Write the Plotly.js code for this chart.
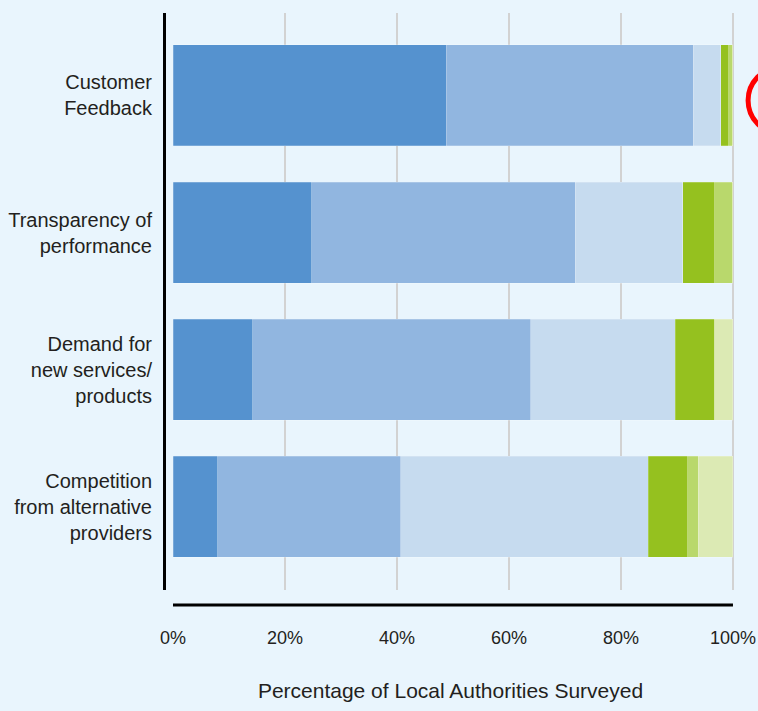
<!DOCTYPE html>
<html>
<head>
<meta charset="utf-8">
<script src="https://cdn.plot.ly/plotly-3.0.1.min.js"></script>
<style>
  html, body { margin: 0; padding: 0; background: #e9f5fd; }
  #chart { width: 758px; height: 711px; }
</style>
</head>
<body>
<div id="chart"></div>
<script>
// Categories (top to bottom)
const categories = [
  "Customer<br>Feedback",
  "Transparency of<br>performance",
  "Demand for<br>new services/<br>products",
  "Competition<br>from alternative<br>providers"
];

// Stacked segment values (% of local authorities), left to right
const seg1 = [48.8, 24.8, 14.2, 8.0];
const seg2 = [44.1, 47.0, 49.7, 32.7];
const seg3 = [4.9, 19.2, 25.8, 44.2];
const seg4 = [1.4, 5.7, 7.0, 7.0];
const seg5 = [0.8, 3.3, 0.0, 1.9];
const seg6 = [0.0, 0.0, 3.3, 6.2];

const seriesValues = [seg1, seg2, seg3, seg4, seg5, seg6];
const seriesNames = ["Segment 1", "Segment 2", "Segment 3", "Segment 4", "Segment 5", "Segment 6"];
const seriesColors = ["#5592cf", "#91b6e0", "#c6dbef", "#95c11f", "#b9d86c", "#dceab4"];

const xTickVals = [0, 20, 40, 60, 80, 100];
const xTickText = ["0%", "20%", "40%", "60%", "80%", "100%"];

const FONT = "'Liberation Sans', Arial, sans-serif";
const TEXT = "#231f20";

const traces = seriesValues.map((vals, i) => ({
  type: "bar",
  orientation: "h",
  y: categories,
  x: vals,
  name: seriesNames[i],
  marker: { color: seriesColors[i], line: { width: 0.6, color: "rgba(255,255,255,0.35)" } },
  hoverinfo: "x+name"
}));

const layout = {
  width: 758,
  height: 711,
  paper_bgcolor: "#e9f5fd",
  plot_bgcolor: "#e9f5fd",
  margin: { l: 166, r: 23, t: 13, b: 121 },
  barmode: "stack",
  bargap: 0.263,
  showlegend: false,
  font: { family: FONT, color: TEXT },
  xaxis: {
    range: [-1.25, 100.36],
    tickvals: xTickVals,
    ticktext: xTickText,
    showgrid: true,
    gridcolor: "#d2d2d2",
    gridwidth: 1.5,
    zeroline: true,
    zerolinecolor: "rgba(0,0,0,0)",
    showline: false,
    ticks: "",
    ticklabelstandoff: 35,
    ticklabeloverflow: "allow",
    tickfont: { family: FONT, size: 18, color: TEXT },
    title: {
      text: "Percentage of Local Authorities Surveyed",
      font: { family: FONT, size: 21, color: TEXT },
      standoff: 36
    },
    fixedrange: true
  },
  yaxis: {
    type: "category",
    range: [3.609, -0.602],
    showgrid: false,
    zeroline: false,
    showline: true,
    linecolor: "#000000",
    linewidth: 3,
    ticks: "",
    ticklabelstandoff: 7,
    tickfont: { family: FONT, size: 20, color: TEXT },
    fixedrange: true
  },
  shapes: [
    {
      type: "line",
      xref: "x", yref: "paper",
      x0: 0, x1: 100,
      y0: -0.026, y1: -0.026,
      line: { color: "#000000", width: 3 }
    },
    {
      type: "circle",
      xref: "paper", yref: "paper",
      x0: 1.023, x1: 1.135,
      y0: 0.792, y1: 0.905,
      line: { color: "#ff0000", width: 5 }
    }
  ]
};

Plotly.newPlot("chart", traces, layout, { displayModeBar: false, staticPlot: true });
</script>
</body>
</html>
